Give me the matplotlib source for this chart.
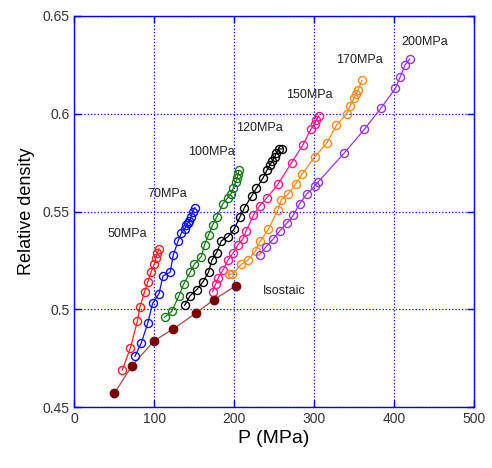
import matplotlib
matplotlib.use('Agg')
from matplotlib import pyplot as plt

plt.rcParams['font.family'] = ['Liberation Sans', 'DejaVu Sans']

# isostatic pressing
p_iso = [50, 72, 100, 124, 152, 175, 202]
d_iso = [0.457, 0.471, 0.484, 0.490, 0.498, 0.505, 0.512]

# die pressing, one series per pressure
p_50 = [60, 70, 79, 82, 88, 92, 96, 100, 102, 104, 106]
d_50 = [0.469, 0.480, 0.494, 0.501, 0.509, 0.514, 0.519, 0.523, 0.526, 0.529, 0.531]

p_70 = [76, 84, 92, 98, 106, 111, 120, 124, 130, 134, 138, 140, 142, 144, 146, 148, 151]
d_70 = [0.476, 0.483, 0.493, 0.503, 0.508, 0.517, 0.519, 0.528, 0.535, 0.539, 0.541,
        0.543, 0.544, 0.545, 0.547, 0.550, 0.552]

p_100 = [113, 122, 131, 137, 145, 150, 159, 163, 168, 173, 178, 186, 192, 196, 199, 202, 204, 205, 206]
d_100 = [0.496, 0.499, 0.507, 0.513, 0.519, 0.523, 0.527, 0.533, 0.538, 0.543, 0.547,
         0.554, 0.557, 0.559, 0.562, 0.565, 0.567, 0.569, 0.571]

p_120 = [138, 145, 153, 161, 168, 172, 178, 184, 192, 200, 207, 213, 222, 228, 236, 241,
         245, 248, 251, 253, 256, 260]
d_120 = [0.502, 0.507, 0.510, 0.514, 0.519, 0.525, 0.529, 0.535, 0.537, 0.541, 0.547,
         0.552, 0.558, 0.562, 0.567, 0.571, 0.574, 0.576, 0.578, 0.580, 0.582, 0.582]

p_150 = [173, 177, 180, 186, 192, 199, 205, 211, 215, 224, 232, 241, 255, 272, 286, 296, 301, 303, 306]
d_150 = [0.509, 0.513, 0.516, 0.520, 0.525, 0.529, 0.533, 0.536, 0.540, 0.548, 0.553,
         0.557, 0.564, 0.575, 0.584, 0.592, 0.595, 0.597, 0.599]

p_170 = [193, 198, 209, 217, 227, 233, 243, 255, 259, 268, 277, 285, 301, 316, 328, 341,
         345, 350, 353, 355, 360]
d_170 = [0.518, 0.518, 0.523, 0.525, 0.530, 0.535, 0.541, 0.551, 0.556, 0.559, 0.564,
         0.569, 0.578, 0.585, 0.594, 0.600, 0.604, 0.608, 0.610, 0.612, 0.617]

p_200 = [232, 240, 249, 257, 266, 274, 282, 291, 301, 305, 338, 363, 384, 402, 408, 414, 420]
d_200 = [0.528, 0.532, 0.536, 0.540, 0.544, 0.548, 0.554, 0.559, 0.563, 0.565, 0.580,
         0.592, 0.603, 0.613, 0.619, 0.625, 0.628]

series = [
    (p_50, d_50, '#ff2020', '50MPa', (42, 0.5385)),
    (p_70, d_70, '#1010ff', '70MPa', (92, 0.5592)),
    (p_100, d_100, '#1a7a1a', '100MPa', (143, 0.5804)),
    (p_120, d_120, '#000000', '120MPa', (203, 0.5926)),
    (p_150, d_150, '#ff1a8c', '150MPa', (265, 0.6095)),
    (p_170, d_170, '#ff8c1a', '170MPa', (328, 0.6274)),
    (p_200, d_200, '#9933dd', '200MPa', (409, 0.6366)),
]

fig = plt.figure(figsize=(4.92, 4.68), dpi=100)
ax = fig.add_axes([0.151, 0.13, 0.812, 0.836])

for p, d, color, label, (tx, ty) in series:
    ax.plot(p, d, '-', color=color, lw=0.9, zorder=2)
    ax.plot(p, d, 'o', mfc='none', mec=color, ms=5.8, mew=1.0, zorder=3)
    ax.text(tx, ty, label, fontsize=9, va='center', ha='left', color='#202020')

ax.plot(p_iso, d_iso, '-', color='#a04848', lw=0.9, zorder=2)
ax.plot(p_iso, d_iso, 'o', color='#7a0000', ms=6, zorder=3)
ax.text(235.5, 0.5094, 'Isostaic', fontsize=9, va='center', ha='left', color='#202020')

ax.set_xlim(0, 500)
ax.set_ylim(0.45, 0.65)
ax.set_xticks([0, 100, 200, 300, 400, 500])
ax.set_yticks([0.45, 0.5, 0.55, 0.6, 0.65])
ax.set_yticklabels(['0.45', '0.5', '0.55', '0.6', '0.65'])

ax.grid(True, color='#0000ff', linestyle=':', linewidth=0.9)
ax.set_axisbelow(True)

for spine in ax.spines.values():
    spine.set_color('#0000ff')
    spine.set_linewidth(1.0)

ax.tick_params(direction='in', color='#0000ff', length=5, width=1.0,
               labelsize=10, labelcolor='#333333', top=True, right=True)

ax.set_xlabel('P (MPa)', fontsize=14, labelpad=3)
ax.set_ylabel('Relative density', fontsize=13, labelpad=5)

fig.savefig('out.png', dpi=100)
